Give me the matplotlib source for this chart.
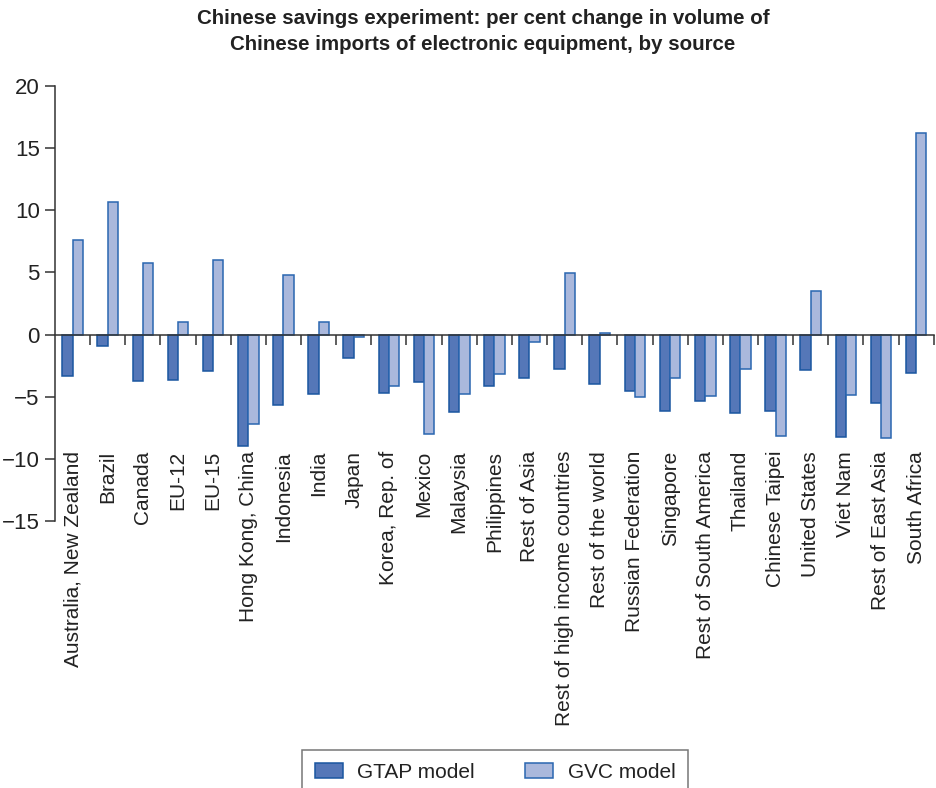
import matplotlib
matplotlib.use("Agg")
import matplotlib.pyplot as plt
import numpy as np

plt.rcParams['font.family'] = ['Liberation Sans', 'DejaVu Sans']

categories = ["Australia, New Zealand", "Brazil", "Canada", "EU-12", "EU-15",
              "Hong Kong, China", "Indonesia", "India", "Japan", "Korea, Rep. of",
              "Mexico", "Malaysia", "Philippines", "Rest of Asia",
              "Rest of high income countries", "Rest of the world",
              "Russian Federation", "Singapore", "Rest of South America",
              "Thailand", "Chinese Taipei", "United States", "Viet Nam",
              "Rest of East Asia", "South Africa"]
gtap = [-3.3, -0.88, -3.75, -3.64, -2.95, -8.97, -5.68, -4.8, -1.85, -4.74,
        -3.78, -6.19, -4.15, -3.46, -2.79, -3.94, -4.58, -6.16, -5.36, -6.32,
        -6.16, -2.87, -8.22, -5.52, -3.13]
gvc = [7.6, 10.7, 5.79, 1.04, 6.03, -7.18, 4.82, 1.04, -0.21, -4.1,
       -7.96, -4.8, -3.19, -0.59, 4.93, 0.16, -5.06, -3.48, -4.96, -2.73,
       -8.2, 3.48, -4.85, -8.3, 16.23]
yticks = [-15, -10, -5, 0, 5, 10, 15, 20]
series_names = ["GTAP model", "GVC model"]

W, H = 937, 788
fig = plt.figure(figsize=(W / 100, H / 100), dpi=100)
ax = fig.add_axes([55 / W, (H - 521) / H, (933.7 - 55) / W, (521 - 86) / H])

x = np.arange(len(categories))
bw = 0.293
ax.bar(x - bw / 2, gtap, width=bw, color="#5577b8", edgecolor="#1a56a0",
       linewidth=1.1, label=series_names[0], zorder=2)
ax.bar(x + bw / 2, gvc, width=bw, color="#aab8dc", edgecolor="#2a66b0",
       linewidth=1.1, label=series_names[1], zorder=2)

ax.set_xlim(-0.5, len(categories) - 0.5)
ax.set_ylim(-15, 20)
ax.set_yticks(yticks)
ax.set_yticklabels([f"{v}".replace("-", "\u2212") for v in yticks])
ax.tick_params(axis='y', direction='out', length=7, width=1.1, color="#333333",
               labelsize=16, labelcolor="#222222", pad=4)

for s in ['top', 'right']:
    ax.spines[s].set_visible(False)
ax.spines['left'].set_color("#333333")
ax.spines['left'].set_linewidth(1.1)
ax.spines['bottom'].set_position(('data', 0))
ax.spines['bottom'].set_color("#333333")
ax.spines['bottom'].set_linewidth(1.1)
ax.spines['bottom'].set_zorder(3)
ax.set_xticks(np.arange(len(categories)) + 0.5)
ax.set_xticklabels([])
ax.tick_params(axis='x', direction='out', length=7, width=1.1, color="#333333")

for xi, name in zip(x, categories):
    ax.text(xi, -9.35, name, rotation=90, ha='center', va='top',
            fontsize=15, color="#222222", clip_on=False)

fig.text(483 / W, 1 - 9 / H,
         "Chinese savings experiment: per cent change in volume of\nChinese imports of electronic equipment, by source",
         ha='center', va='top', fontsize=14.8, fontweight='bold', color="#222222",
         linespacing=1.45)

leg = fig.legend(loc='upper center', bbox_to_anchor=(495 / W, 1 - 750 / H),
                 ncol=2, fontsize=15, frameon=True, fancybox=False,
                 edgecolor="#555555", handlelength=1.35, handleheight=0.7,
                 columnspacing=2.4, borderpad=0.6, handletextpad=0.7,
                 borderaxespad=0)
leg.get_frame().set_linewidth(1.1)
for t in leg.get_texts():
    t.set_color("#222222")

fig.savefig("out.png", dpi=100)
